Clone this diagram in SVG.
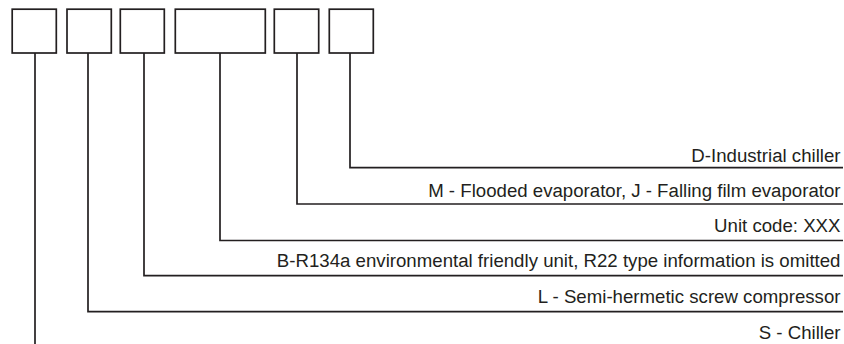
<svg xmlns="http://www.w3.org/2000/svg" width="844" height="344" viewBox="0 0 844 344">
<style>
.box{fill:#fff;stroke:#231f20;stroke-width:1.7}
.ln{fill:none;stroke:#231f20;stroke-width:1.7}
text{font-family:"Liberation Sans",Arial,sans-serif;font-size:18.65px;fill:#231f20;text-anchor:end}
</style>
<rect width="844" height="344" fill="#fff"/>
<g id="box1"><rect class="box" x="12.2" y="9.2" width="44.1" height="43.8"/></g>
<g id="box2"><rect class="box" x="67" y="9.2" width="44.3" height="43.8"/></g>
<g id="box3"><rect class="box" x="120.3" y="9.2" width="44" height="43.8"/></g>
<g id="box4"><rect class="box" x="175.3" y="9.2" width="90" height="43.8"/></g>
<g id="box5"><rect class="box" x="274.3" y="9.2" width="44.4" height="43.8"/></g>
<g id="box6"><rect class="box" x="329.3" y="9.2" width="44" height="43.8"/></g>
<g id="connectors">
<polyline class="ln" points="350,53 350,167.7 843,167.7"/>
<polyline class="ln" points="297,53 297,204 843,204"/>
<polyline class="ln" points="220,53 220,240.5 843,240.5"/>
<polyline class="ln" points="144,53 144,275.7 843,275.7"/>
<polyline class="ln" points="88,53 88,311.7 843,311.7"/>
<line class="ln" x1="35" y1="53" x2="35" y2="344"/>
</g>
<g id="labels">
<text x="840.5" y="162">D-Industrial chiller</text>
<text x="840.5" y="197.3">M - Flooded evaporator, J - Falling film evaporator</text>
<text x="840.5" y="232.3">Unit code: XXX</text>
<text x="840.5" y="267.3">B-R134a environmental friendly unit, R22 type information is omitted</text>
<text x="840.5" y="303">L - Semi-hermetic screw compressor</text>
<text x="840.5" y="338.6">S - Chiller</text>
</g>
</svg>
